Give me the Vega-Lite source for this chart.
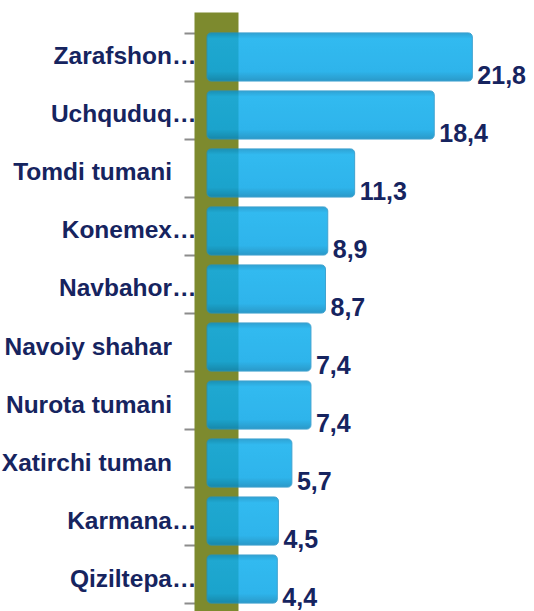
{
  "$schema": "https://vega.github.io/schema/vega-lite/v6.json",
  "width": 318,
  "height": 612,
  "autosize": {"type": "none"},
  "padding": {"left": 216, "top": 12, "right": 0, "bottom": 0},
  "background": "white",
  "config": {"view": {"stroke": null}},
  "data": {
    "values": [
      {"region": "Zarafshon…", "value": 21.8, "label": "21,8"},
      {"region": "Uchquduq…", "value": 18.4, "label": "18,4"},
      {"region": "Tomdi tumani\u2003\u200b", "value": 11.3, "label": "11,3"},
      {"region": "Konemex…", "value": 8.9, "label": "8,9"},
      {"region": "Navbahor…", "value": 8.7, "label": "8,7"},
      {"region": "Navoiy shahar\u2003\u200b", "value": 7.4, "label": "7,4"},
      {"region": "Nurota tumani\u2003\u200b", "value": 7.4, "label": "7,4"},
      {"region": "Xatirchi tuman\u2003\u200b", "value": 5.7, "label": "5,7"},
      {"region": "Karmana…", "value": 4.5, "label": "4,5"},
      {"region": "Qiziltepa…", "value": 4.4, "label": "4,4"}
    ]
  },
  "encoding": {
    "y": {
      "field": "region",
      "type": "nominal",
      "sort": null,
      "scale": {"paddingInner": 0.17, "paddingOuter": 0.36},
      "axis": {
        "title": null,
        "domainColor": "#7d8a2e",
        "domainWidth": 44,
        "tickColor": "#8c8c8c",
        "tickSize": 32,
        "tickWidth": 2,
        "tickBand": "extent",
        "tickOffset": 6,
        "labelFont": "Liberation Sans",
        "labelFontSize": 24.5,
        "labelFontWeight": "bold",
        "labelColor": "#16245f",
        "labelPadding": -12,
        "labelLimit": 300
      }
    }
  },
  "layer": [
    {
      "mark": {
        "type": "bar",
        "fill": {
          "gradient": "linear",
          "x1": 0, "y1": 0, "x2": 0, "y2": 1,
          "stops": [
            {"offset": 0, "color": "#0a93cc"},
            {"offset": 0.12, "color": "#0faeee"},
            {"offset": 0.8, "color": "#0aa8e8"},
            {"offset": 1, "color": "#0688c0"}
          ]
        },
        "stroke": "#1f93c8",
        "strokeWidth": 1,
        "cornerRadius": 4,
        "opacity": 0.85
      },
      "encoding": {
        "x": {"field": "value", "type": "quantitative", "scale": {"domain": [-1.07, 27.3], "nice": false, "zero": false}, "axis": null},
        "x2": {"datum": -1.87}
      }
    },
    {
      "mark": {"type": "text", "align": "left", "baseline": "middle", "dx": 5, "dy": 19, "font": "Liberation Sans", "fontSize": 25, "fontWeight": "bold", "color": "#16245f"},
      "encoding": {
        "x": {"field": "value", "type": "quantitative"},
        "text": {"field": "label"}
      }
    }
  ]
}
